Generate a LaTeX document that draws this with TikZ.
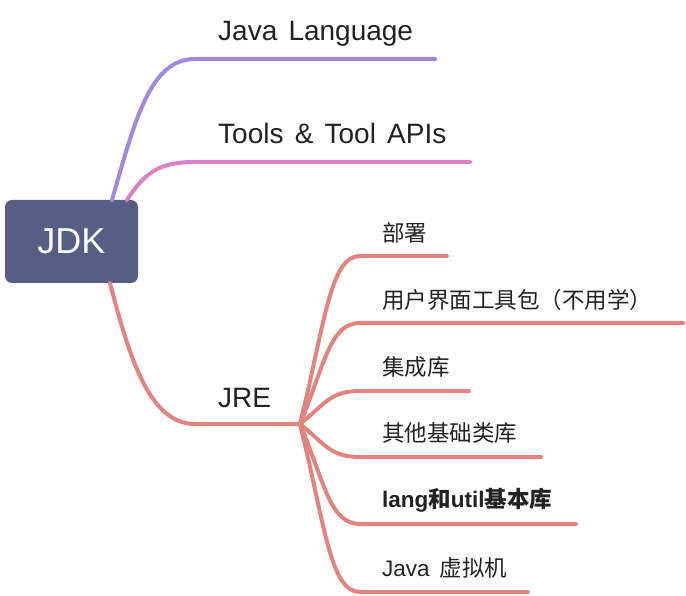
\documentclass[tikz,border=0pt]{standalone}
\usepackage{fontspec}
\setmainfont{Liberation Sans}
\newfontfamily\cjk{Noto Sans CJK SC}
\usetikzlibrary{calc}

\definecolor{boxblue}{HTML}{565E86}
\definecolor{purplebr}{HTML}{A287E0}
\definecolor{pinkbr}{HTML}{DC7FC4}
\definecolor{salmonbr}{HTML}{E3837F}
\definecolor{txt}{HTML}{222222}
\newcommand\mainfnt{\fontsize{28}{30}\selectfont\spaceskip=0.4em\relax}
\newcommand\subfnt{\fontsize{22.5}{26}\selectfont}

\begin{document}
\begin{tikzpicture}[x=1pt,y=-1pt,
  branch/.style={line width=4pt,line cap=round},
  mainlbl/.style={anchor=base west,inner sep=0pt,font=\mainfnt,text=txt},
  sublbl/.style={anchor=west,inner sep=0pt,font=\subfnt,text=txt}]
\useasboundingbox (0,0) rectangle (686,596);

% Nodo raiz
\node (jdk) at (71.5,241.5) [fill=boxblue,rounded corners=7pt,minimum width=133pt,minimum height=83pt,inner sep=0pt,text=white,font=\fontsize{36}{40}\selectfont] {JDK};

% Puntos de las ramas
\coordinate (s1) at (112,200);
\coordinate (s2) at (127,200);
\coordinate (s3) at (110,283);
\coordinate (e1) at (435,59);
\coordinate (e2) at (470,162);
\coordinate (hub) at (300,424);

% Ramas principales
\draw[branch,purplebr] (s1) .. controls (135,120) and (150,59) .. (195,59) -- (e1);
\draw[branch,pinkbr] (s2) .. controls (145,172) and (160,162) .. (195,162) -- (e2);
\draw[branch,salmonbr] (s3) .. controls (130,360) and (150,424) .. (195,424) -- (hub);

\node (lang) at (218,41) [mainlbl] {Java Language};
\node (tools) at (218,144) [mainlbl] {Tools \& Tool APIs};
\node (jre) at (218,407) [mainlbl] {JRE};

% Sub-ramas de JRE
\foreach \i/\y/\xe in {1/256/447, 2/323/683, 3/391/469, 4/457/541, 5/524/576, 6/592/528} {
  \coordinate (t\i) at (\xe,\y);
  \draw[branch,salmonbr] (hub) .. controls (325,{424+(\y-424)*0.6}) and (330,\y) .. (360,\y) -- (t\i);
}

\node (deploy) at (382,233) [sublbl] {\cjk 部署};
\node (uikit) at (382,300) [sublbl] {\cjk 用户界面工具包（不用学）};
\node (collect) at (382,367) [sublbl] {\cjk 集成库};
\node (other) at (382,433) [sublbl] {\cjk 其他基础类库};
\node (langutil) at (382,500) [sublbl,font=\subfnt\bfseries] {lang{\cjk 和}util{\cjk 基本库}};
\node (jvm) at (382,568) [sublbl] {Java\hspace{0.45em}{\cjk 虚拟机}};

\end{tikzpicture}
\end{document}
